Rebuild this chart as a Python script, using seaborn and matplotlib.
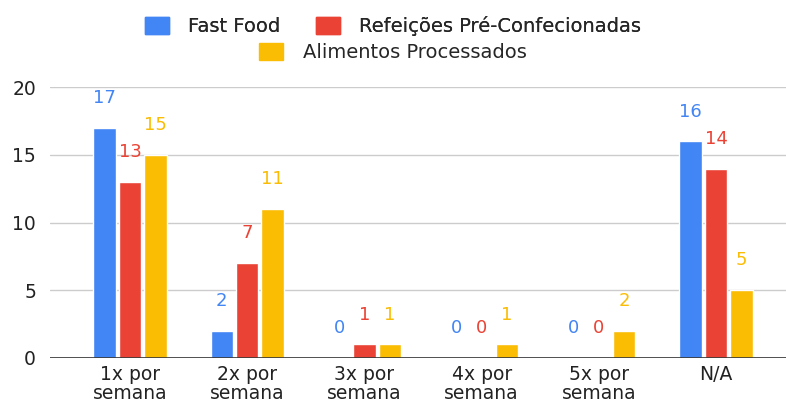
import pandas as pd
import matplotlib.pyplot as plt
import seaborn as sns

categories = ['1x por\nsemana', '2x por\nsemana', '3x por\nsemana', '4x por\nsemana', '5x por\nsemana', 'N/A']
fast_food = [17, 2, 0, 0, 0, 16]
refeicoes = [13, 7, 1, 0, 0, 14]
processados = [15, 11, 1, 1, 2, 5]
series_names = ['Fast Food', 'Refeições Pré-Confecionadas', 'Alimentos Processados']
colors = ['#4285F4', '#EA4335', '#FBBC04']

df = pd.DataFrame({
    'cat': categories * 3,
    'serie': [s for s in series_names for _ in categories],
    'valor': fast_food + refeicoes + processados,
})

sns.set_style('white')
plt.rcParams['font.family'] = ['DejaVu Sans']

fig = plt.figure(figsize=(7.86, 4.04), dpi=100)
ax = fig.add_axes([0.0636, 0.1139, 0.9364, 0.670])

sns.barplot(data=df, x='cat', y='valor', hue='serie', palette=colors,
            width=0.65, gap=0.12, ax=ax, legend=False, saturation=1)

for cont, col in zip(ax.containers, colors):
    ax.bar_label(cont, padding=15, color=col, fontsize=13)

ax.set_ylim(0, 20)
ax.set_xlim(-0.683, 5.597)
ax.set_yticks([0, 5, 10, 15, 20])
ax.yaxis.grid(True, color='#cccccc', linewidth=1)
ax.set_axisbelow(True)
ax.axhline(0, color='#333333', linewidth=1.2)
for s in ax.spines.values():
    s.set_visible(False)
ax.tick_params(axis='both', length=0, labelsize=13.5, colors='#222222')
ax.tick_params(axis='y', pad=10)
ax.tick_params(axis='x', pad=5)
for t in ax.get_xticklabels():
    t.set_linespacing(0.98)
ax.set_xlabel('')
ax.set_ylabel('')

# legenda em duas linhas centradas
handles = [plt.Rectangle((0, 0), 1, 1, color=c) for c in colors]
leg_kw = dict(frameon=False, fontsize=14, handlelength=1.24, handleheight=0.98,
              handletextpad=1.0, columnspacing=1.8)
leg1 = fig.legend(handles[:2], series_names[:2], loc='center', bbox_to_anchor=(0.5, 0.935),
                  ncol=2, **leg_kw)
fig.legend(handles[2:], series_names[2:], loc='center', bbox_to_anchor=(0.5, 0.87), **leg_kw)
fig.add_artist(leg1)

plt.savefig('out.png', dpi=100)
